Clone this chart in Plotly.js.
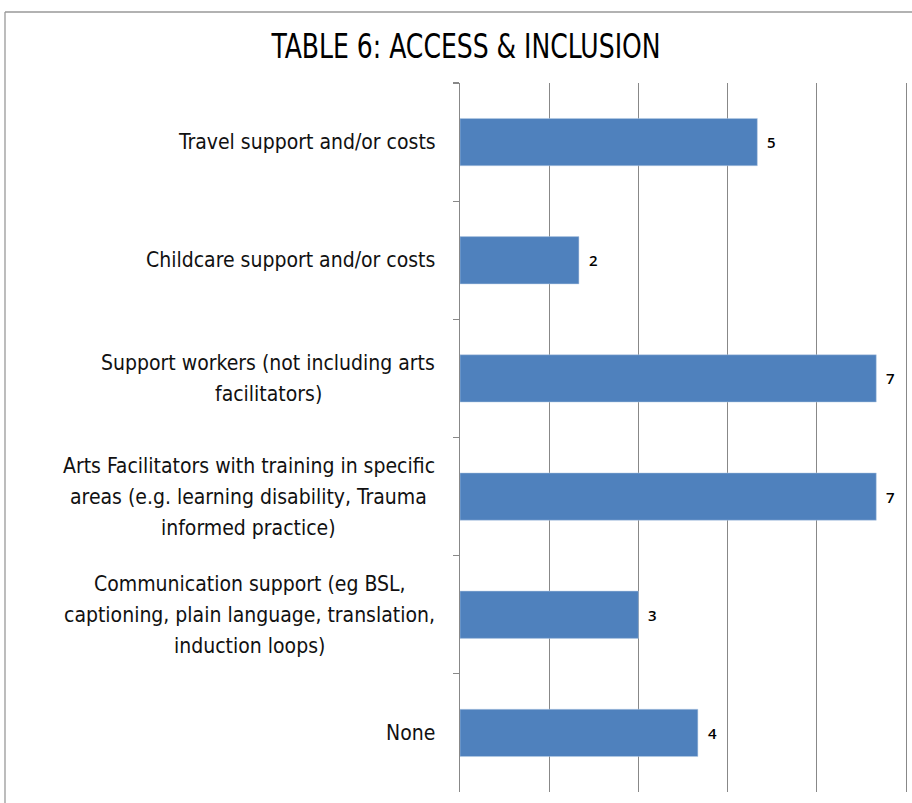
<!DOCTYPE html>
<html>
<head>
<meta charset="utf-8">
<script src="https://cdn.plot.ly/plotly-3.0.1.min.js"></script>
<style>
  html, body { margin: 0; padding: 0; background: #fff; }
  #chart { width: 912px; height: 803px; }
</style>
</head>
<body>
<div id="chart"></div>
<script>
// Data
const categories = [
  "Travel support and/or costs",
  "Childcare support and/or costs",
  "Support workers (not including arts<br>facilitators)",
  "Arts Facilitators with training in specific<br>areas (e.g. learning disability, Trauma<br>informed practice)",
  "Communication support (eg BSL,<br>captioning, plain language, translation,<br>induction loops)",
  "None"
];
const values = [5, 2, 7, 7, 3, 4];
const chartTitle = "TABLE 6: ACCESS &amp; INCLUSION";

const labelFont = "'DejaVu Sans Condensed', 'Liberation Sans Narrow', sans-serif";
const gridColor = "#888888";
const lineStep = 31;

const trace = {
  type: "bar",
  orientation: "h",
  y: categories,
  x: values,
  marker: { color: "#4F81BD", line: { color: "#B9CDE5", width: 0.5 } },
  hoverinfo: "none"
};

const annotations = [];
categories.forEach((c, i) => {
  const lines = c.split("<br>");
  const n = lines.length;
  lines.forEach((ln, k) => {
    annotations.push({
      xref: "paper", yref: "y", x: 0, y: c, xanchor: "center", yanchor: "middle",
      xshift: -25, yshift: ((n - 1) / 2 - k) * lineStep,
      text: ln, showarrow: false, align: "center",
      font: { family: labelFont, size: 21, color: "#111" },
      _block: i
    });
  });
  annotations.push({
    xref: "x", yref: "y", x: values[i], y: c, xanchor: "left", yanchor: "middle",
    xshift: 8, text: String(values[i]), showarrow: false,
    font: { family: "'Open Sans', sans-serif", size: 15, color: "#000", weight: 600 }
  });
});

// Multi-line labels: centre each line under the widest line of its block,
// with the block right-aligned next to the axis.
function measure(text, size) {
  const c = document.createElement("canvas").getContext("2d");
  c.font = size + "px 'DejaVu Sans Condensed'";
  return c.measureText(text).width;
}
categories.forEach((c, i) => {
  const lines = c.split("<br>");
  const maxW = Math.max.apply(null, lines.map(l => measure(l, 21)));
  annotations.forEach(a => {
    if (a._block === i) {
      a.xshift = -25 - maxW / 2;
    }
  });
});
annotations.forEach(a => { delete a._block; });

const layout = {
  width: 912, height: 803,
  margin: { l: 460, r: 6, t: 83, b: 11, pad: 0 },
  paper_bgcolor: "#ffffff", plot_bgcolor: "#ffffff",
  showlegend: false,
  bargap: 0.6,
  title: {
    text: chartTitle,
    x: 0.511, xanchor: "center", y: 1 - 46 / 803, yanchor: "middle", yref: "container", xref: "container",
    font: { family: labelFont, size: 34, color: "#000", weight: "normal" }
  },
  xaxis: {
    range: [0, 7.5], dtick: 1.5, tick0: 0,
    showticklabels: false, ticks: "",
    showgrid: true, gridcolor: gridColor, gridwidth: 1.3,
    zeroline: false, showline: false, fixedrange: true
  },
  yaxis: {
    type: "category", autorange: "reversed",
    showticklabels: false,
    ticks: "outside", tickson: "boundaries", ticklen: 6, tickcolor: gridColor, tickwidth: 1.3,
    showline: true, linecolor: gridColor, linewidth: 1.3, mirror: true,
    showgrid: false, zeroline: false, fixedrange: true
  },
  annotations: annotations,
  shapes: [
    { type: "line", xref: "paper", yref: "paper",
      x0: (5 - 460) / 446, x1: (5 - 460) / 446, y0: (792 - 12) / 709, y1: (792 - 803) / 709,
      line: { color: "#999", width: 1.3 } },
    { type: "line", xref: "paper", yref: "paper",
      x0: (5 - 460) / 446, x1: (912 - 460) / 446, y0: (792 - 12) / 709, y1: (792 - 12) / 709,
      line: { color: "#999", width: 1.3 } }
  ]
};

Plotly.newPlot("chart", [trace], layout, { displayModeBar: false, staticPlot: true }).then(function (gd) {
  // Condense the title glyphs to match the narrow display face of the original
  const t = gd.querySelector(".gtitle");
  if (t) {
    t.setAttribute("textLength", "389");
    t.setAttribute("lengthAdjust", "spacingAndGlyphs");
  }
});
</script>
</body>
</html>
